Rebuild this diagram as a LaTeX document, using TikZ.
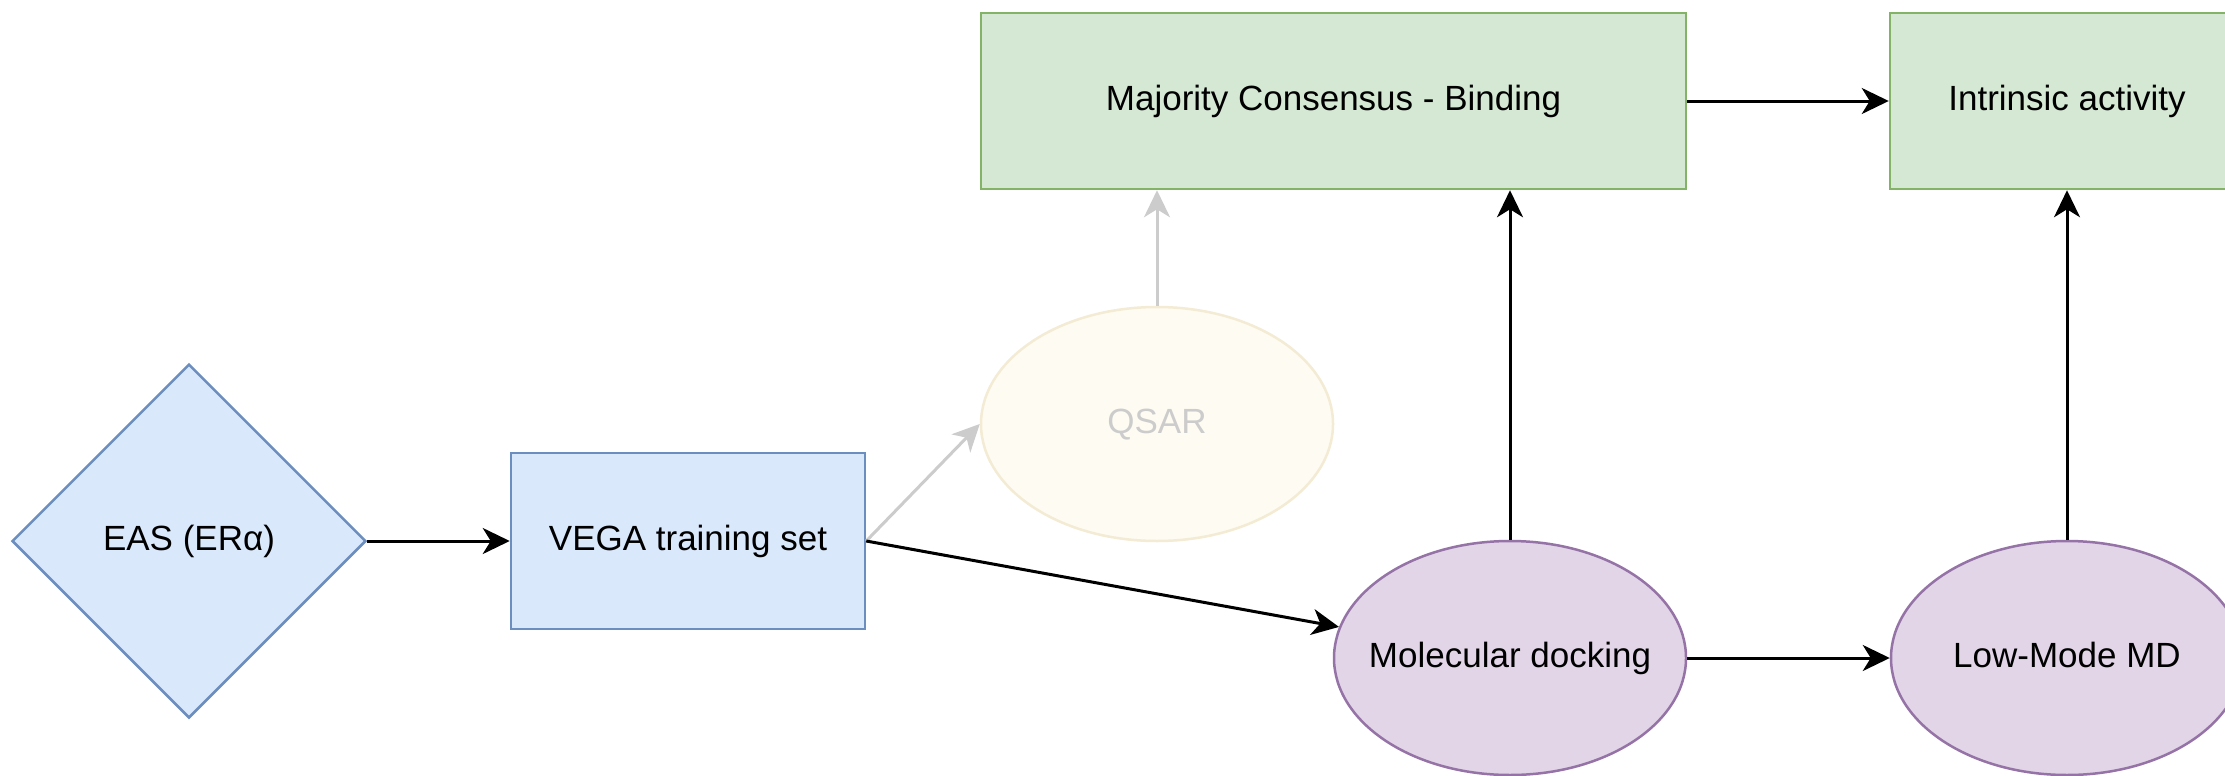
\documentclass[tikz,border=0pt]{standalone}
\usepackage{fontspec}
\setmainfont{Liberation Sans}
\usetikzlibrary{shapes.geometric,arrows.meta}

\definecolor{bluefill}{HTML}{DAE8FC}
\definecolor{bluedraw}{HTML}{6C8EBF}
\definecolor{greenfill}{HTML}{D5E8D4}
\definecolor{greendraw}{HTML}{82B366}
\definecolor{purplefill}{HTML}{E1D5E7}
\definecolor{purpledraw}{HTML}{9673A6}
\definecolor{fadefill}{HTML}{FEFBF2}
\definecolor{fadedraw}{HTML}{F3EBD3}
\definecolor{fadetext}{HTML}{CCCCCC}

\tikzset{
  base/.style={inner sep=0pt, line width=2.5pt, text height=26pt, text depth=7pt,
    font=\fontsize{35}{42}\selectfont},
  bluebox/.style={base, rectangle, draw=bluedraw, fill=bluefill, minimum width=354pt, minimum height=176pt},
  bluediamond/.style={base, diamond, aspect=1, inner xsep=-40pt, draw=bluedraw, fill=bluefill, minimum width=354pt, minimum height=354pt},
  greenbox/.style={base, rectangle, draw=greendraw, fill=greenfill, minimum height=176pt},
  ovalbase/.style={base, ellipse, inner xsep=-80pt, minimum width=352pt, minimum height=234pt},
  purpleoval/.style={ovalbase, draw=purpledraw, fill=purplefill},
  fadeoval/.style={ovalbase, draw=fadedraw, fill=fadefill, text=fadetext},
  flow/.style={line width=3pt, -{Stealth[length=27pt, width=26pt, inset=8pt]}},
  fadeflow/.style={flow, draw=fadetext, color=fadetext}
}

\begin{document}
\begin{tikzpicture}[x=1pt, y=-1pt]
  \clip (0,0) rectangle (2225,776);
  \fill[white] (0,0) rectangle (2225,776);

  % input stage
  \node[bluediamond] (eas) at (189,541) {EAS (ERα)};
  \node[bluebox] (vega) at (688,541) {VEGA training set};

  % modelling stage
  \node[fadeoval] (qsar) at (1157,424) {QSAR};
  \node[purpleoval] (dock) at (1510,658) {Molecular docking};
  \node[purpleoval] (lmd) at (2067,658) {Low-Mode MD};

  % results
  \node[greenbox, minimum width=705pt] (maj) at (1333.5,101) {Majority Consensus - Binding};
  \node[greenbox, minimum width=354pt] (intr) at (2067,101) {Intrinsic activity};

  % connectors
  \draw[flow] (eas.east) -- (vega.west);
  \draw[fadeflow] (vega.east) -- (qsar.west);
  \draw[fadeflow] (qsar.north) -- (qsar.north |- maj.south);
  \draw[flow] (vega.east) -- (dock);
  \draw[flow] (dock.north) -- (dock.north |- maj.south);
  \draw[flow] (dock.east) -- (lmd.west);
  \draw[flow] (lmd.north) -- (intr.south);
  \draw[flow] (maj.east) -- (maj.east -| intr.west);
\end{tikzpicture}
\end{document}
